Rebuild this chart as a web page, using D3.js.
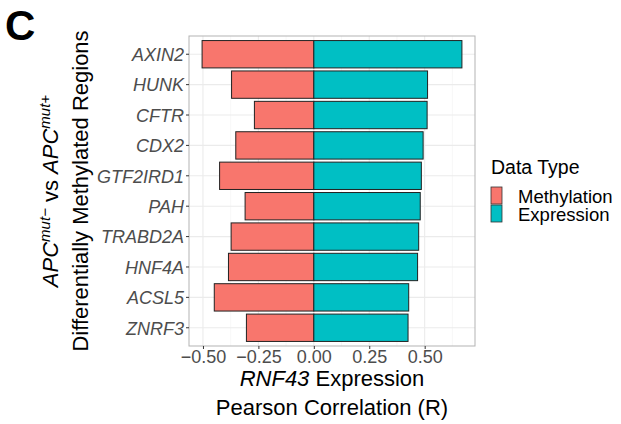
<!DOCTYPE html>
<html>
<head>
<meta charset="utf-8">
<script src="https://cdn.jsdelivr.net/npm/d3@7"></script>
<style>
  body { margin: 0; background: #fff; }
  svg { font-family: "Liberation Sans", Arial, Helvetica, sans-serif; }
</style>
</head>
<body>
<svg id="chart" width="621" height="424"></svg>
<script>
// Data
const genes = ["AXIN2", "HUNK", "CFTR", "CDX2", "GTF2IRD1", "PAH", "TRABD2A", "HNF4A", "ACSL5", "ZNRF3"];
const methylation = [-0.504, -0.371, -0.268, -0.352, -0.425, -0.310, -0.373, -0.385, -0.449, -0.304];
const expression = [0.668, 0.513, 0.511, 0.493, 0.485, 0.480, 0.473, 0.468, 0.428, 0.425];
const xTicks = [-0.5, -0.25, 0, 0.25, 0.5];
const seriesNames = ["Methylation", "Expression"];
const seriesColors = ["#F8766D", "#00BFC4"];

const svg = d3.select("#chart");
const panel = { left: 189, right: 475, top: 36, bottom: 346 };

// Scales
const x = d3.scaleLinear()
  .domain([-0.563, 0.727])
  .range([panel.left, panel.right]);

const y = d3.scaleBand()
  .domain(genes)
  .range([panel.top, panel.bottom])
  .paddingInner(0.1)
  .paddingOuter(0.15);

// Panel background + grid
const g = svg.append("g");

g.append("rect")
  .attr("x", panel.left).attr("y", panel.top)
  .attr("width", panel.right - panel.left)
  .attr("height", panel.bottom - panel.top)
  .attr("fill", "#fff");

const minor = xTicks.slice(0, -1).map((t, i) => (t + xTicks[i + 1]) / 2)
  .concat([0.625]);
g.selectAll(".minor").data(minor).join("line")
  .attr("x1", d => x(d)).attr("x2", d => x(d))
  .attr("y1", panel.top).attr("y2", panel.bottom)
  .attr("stroke", "#f2f2f2").attr("stroke-width", 0.6);

g.selectAll(".vmajor").data(xTicks).join("line")
  .attr("x1", d => x(d)).attr("x2", d => x(d))
  .attr("y1", panel.top).attr("y2", panel.bottom)
  .attr("stroke", "#ebebeb").attr("stroke-width", 1.1);

g.selectAll(".hmajor").data(genes).join("line")
  .attr("x1", panel.left).attr("x2", panel.right)
  .attr("y1", d => y(d) + y.bandwidth() / 2)
  .attr("y2", d => y(d) + y.bandwidth() / 2)
  .attr("stroke", "#ebebeb").attr("stroke-width", 1.1);

// Bars
const rows = genes.map((gene, i) => [
  { gene, type: 0, value: methylation[i] },
  { gene, type: 1, value: expression[i] }
]).flat();

g.selectAll(".bar").data(rows).join("rect")
  .attr("x", d => x(Math.min(0, d.value)))
  .attr("width", d => Math.abs(x(d.value) - x(0)))
  .attr("y", d => y(d.gene))
  .attr("height", y.bandwidth())
  .attr("fill", d => seriesColors[d.type])
  .attr("stroke", "#222")
  .attr("stroke-width", 1);

// Panel border
g.append("rect")
  .attr("x", panel.left).attr("y", panel.top)
  .attr("width", panel.right - panel.left)
  .attr("height", panel.bottom - panel.top)
  .attr("fill", "none")
  .attr("stroke", "#b3b3b3").attr("stroke-width", 1);

// Axes
const xAxis = svg.append("g")
  .attr("transform", `translate(0,${panel.bottom})`)
  .call(d3.axisBottom(x).tickValues(xTicks).tickSize(3).tickPadding(2));
xAxis.select(".domain").remove();
xAxis.selectAll("line").attr("stroke", "#333");
xAxis.selectAll("text")
  .attr("fill", "#4d4d4d")
  .attr("y", 17).attr("dy", null)
  .style("font-size", "18px")
  .text(d => d3.format(".2f")(d).replace("-", "\u2212"));

const yAxis = svg.append("g")
  .attr("transform", `translate(${panel.left},0)`)
  .call(d3.axisLeft(y).tickSize(3).tickPadding(2));
yAxis.select(".domain").remove();
yAxis.selectAll("line").attr("stroke", "#333");
yAxis.selectAll("text")
  .attr("fill", "#4d4d4d")
  .attr("dy", "0.38em")
  .style("font-size", "18px")
  .style("font-style", "italic");

// Axis titles
const cx = (panel.left + panel.right) / 2;
const xt1 = svg.append("text")
  .attr("x", cx).attr("y", 386)
  .attr("text-anchor", "middle")
  .style("font-size", "22px");
xt1.append("tspan").style("font-style", "italic").text("RNF43");
xt1.append("tspan").text(" Expression");

svg.append("text")
  .attr("x", cx).attr("y", 415)
  .attr("text-anchor", "middle")
  .style("font-size", "22px")
  .text("Pearson Correlation (R)");

const cy = (panel.top + panel.bottom) / 2;
const yt1 = svg.append("text")
  .attr("transform", `translate(58,${cy}) rotate(-90)`)
  .attr("text-anchor", "middle")
  .style("font-size", "22px");
yt1.append("tspan").style("font-style", "italic").text("APC");
yt1.append("tspan").style("font-style", "italic").style("font-size", "15px").attr("dy", -8).text("mut\u2212");
yt1.append("tspan").attr("dy", 8).text(" vs ");
yt1.append("tspan").style("font-style", "italic").text("APC");
yt1.append("tspan").style("font-style", "italic").style("font-size", "15px").attr("dy", -8).text("mut+");

svg.append("text")
  .attr("transform", `translate(88,${cy}) rotate(-90)`)
  .attr("text-anchor", "middle")
  .style("font-size", "22px")
  .text("Differentially Methylated Regions");

// Panel letter
svg.append("text")
  .attr("x", 5).attr("y", 40)
  .style("font-size", "42px")
  .style("font-weight", "bold")
  .text("C");

// Legend
const legend = svg.append("g").attr("transform", "translate(491,0)");
legend.append("text")
  .attr("x", 0).attr("y", 174)
  .style("font-size", "19.5px")
  .text("Data Type");

const keys = legend.selectAll(".key").data(seriesNames).join("g")
  .attr("transform", (d, i) => `translate(0,${187 + i * 18})`);
keys.append("rect")
  .attr("x", 0).attr("y", 0)
  .attr("width", 11).attr("height", 17)
  .attr("fill", (d, i) => seriesColors[i])
  .attr("stroke", "#333").attr("stroke-width", 0.8);
keys.append("text")
  .attr("x", 27).attr("y", 16)
  .style("font-size", "18.5px")
  .text(d => d);
</script>
</body>
</html>
